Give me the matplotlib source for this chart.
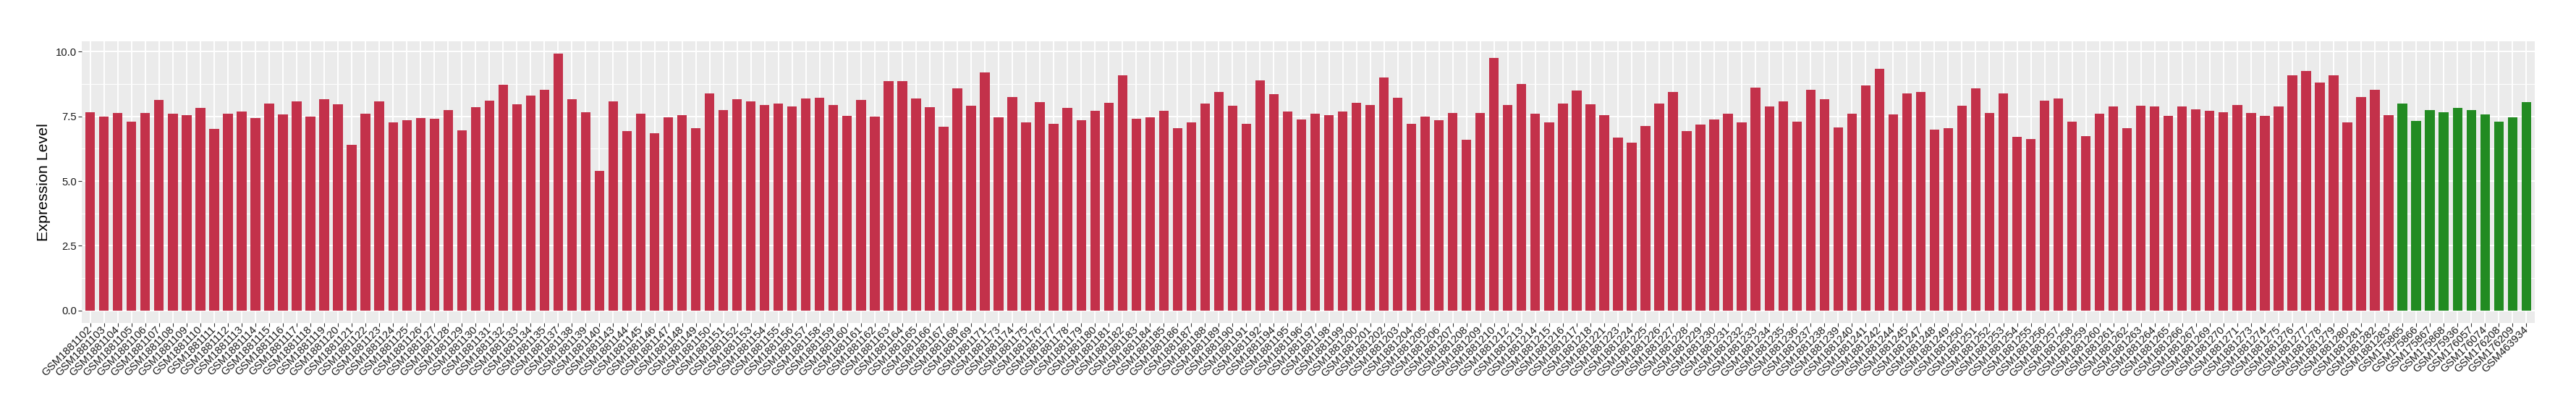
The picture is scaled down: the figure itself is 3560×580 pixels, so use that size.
import numpy as np
import matplotlib.pyplot as plt
from matplotlib.ticker import MultipleLocator, FormatStrFormatter

plt.rcParams['font.family'] = ['Liberation Sans', 'DejaVu Sans']

# sample ids (tumour group, prefix GSM1881)
tumour_ids = [102, 103, 104, 105, 106, 107, 108, 109, 110, 111, 112, 113, 114,
              115, 116, 117, 118, 119, 120, 121, 122, 123, 124, 125, 126, 127,
              128, 129, 130, 131, 132, 133, 134, 135, 137, 138, 139, 140,
              143, 144, 145, 146, 147, 148, 149, 150, 151, 152, 153, 154, 155,
              156, 157, 158, 159, 160, 161, 162, 163, 164, 165, 166, 167, 168,
              169, 171, 173, 174, 175, 176, 177, 178, 179, 180, 181, 182, 183,
              184, 185, 186, 187, 188, 189, 190, 191, 192, 194, 195, 196, 197,
              198, 199, 200, 201, 202, 203, 204, 205, 206, 207, 208, 209, 210,
              212, 213, 214, 215, 216, 217, 218, 221, 223, 224, 225, 226, 227,
              228, 229, 230, 231, 232, 233, 234, 235, 236, 237, 238, 239, 240,
              241, 242, 244, 245, 247, 248, 249, 250, 251, 252, 253, 254, 255,
              256, 257, 258, 259, 260, 261, 262, 263, 264, 265, 266, 267, 269,
              270, 271, 273, 274, 275, 276, 277, 278, 279, 280, 281, 282, 283]
tumour_labels = ['GSM1881%d' % i for i in tumour_ids]

tumour_values = [7.66, 7.50, 7.63, 7.30, 7.63, 8.14, 7.61, 7.55, 7.83, 7.02, 7.61, 7.69, 7.44,
                 7.99, 7.58, 8.09, 7.50, 8.17, 7.97, 6.40, 7.61, 8.09, 7.27, 7.35, 7.44, 7.41,
                 7.75, 6.96, 7.86, 8.11, 8.73, 7.97, 8.30, 8.53, 9.93, 8.17, 7.66, 5.40,
                 8.09, 6.94, 7.61, 6.86, 7.47, 7.55, 7.04, 8.39, 7.75, 8.17, 8.09, 7.94, 7.99,
                 7.89, 8.19, 8.22, 7.94, 7.52, 8.14, 7.50, 8.86, 8.86, 8.19, 7.86, 7.10, 8.58,
                 7.91, 9.20, 7.47, 8.25, 7.27, 8.06, 7.22, 7.83, 7.35, 7.71, 8.02, 9.09, 7.41,
                 7.47, 7.71, 7.04, 7.27, 7.99, 8.45, 7.91, 7.22, 8.89, 8.37, 7.69, 7.38, 7.61,
                 7.55, 7.69, 8.02, 7.94, 9.01, 8.22, 7.22, 7.50, 7.35, 7.63, 6.60, 7.63, 9.76,
                 7.94, 8.75, 7.61, 7.27, 7.99, 8.50, 7.97, 7.55, 6.68, 6.48, 7.14, 7.99, 8.45,
                 6.94, 7.19, 7.38, 7.61, 7.27, 8.61, 7.89, 8.09, 7.30, 8.53, 8.17, 7.07, 7.61,
                 8.70, 9.34, 7.58, 8.39, 8.45, 6.99, 7.04, 7.91, 8.58, 7.63, 8.39, 6.71, 6.63,
                 8.11, 8.19, 7.30, 6.74, 7.61, 7.89, 7.04, 7.91, 7.89, 7.52, 7.89, 7.78, 7.71,
                 7.66, 7.94, 7.63, 7.52, 7.89, 9.09, 9.26, 8.81, 9.09, 7.27, 8.25, 8.53, 7.55]

normal_labels = ['GSM175865', 'GSM175866', 'GSM175867', 'GSM175868', 'GSM175936',
                 'GSM176057', 'GSM176074', 'GSM176208', 'GSM176209', 'GSM463934']
normal_values = [7.99, 7.33, 7.75, 7.66, 7.83, 7.75, 7.58, 7.30, 7.47, 8.06]

labels = tumour_labels + normal_labels
values = tumour_values + normal_values
colors = ['#C3314A'] * len(tumour_values) + ['#228B22'] * len(normal_values)

fig, ax = plt.subplots(figsize=(35.6, 5.8), dpi=100)
fig.subplots_adjust(left=0.03183, right=0.98390, top=0.9022, bottom=0.2316)

x = np.arange(len(values))
ax.bar(x, values, width=0.7, color=colors, zorder=3)

ax.set_facecolor('#EBEBEB')
ax.set_xlim(-0.6, len(values) - 0.4)
ax.set_ylim(-0.476, 10.41)
ax.yaxis.set_major_locator(MultipleLocator(2.5))
ax.yaxis.set_minor_locator(MultipleLocator(1.25))
ax.yaxis.set_major_formatter(FormatStrFormatter('%.1f'))
ax.grid(which='major', color='white', linewidth=1.4, zorder=0)
ax.grid(which='minor', axis='y', color='white', linewidth=0.7, zorder=0)
ax.set_axisbelow(True)
for s in ax.spines.values():
    s.set_visible(False)

ax.set_xticks(x)
ax.set_xticklabels(labels, rotation=45, ha='right', va='center',
                   rotation_mode='anchor', fontsize=10.7, color='#1A1A1A')
ax.tick_params(axis='both', which='major', length=3.3, width=0.8, color='#333333', pad=2)
ax.tick_params(axis='y', which='minor', length=0)
ax.tick_params(axis='y', labelsize=10.7, labelcolor='#1A1A1A')

ax.set_ylabel('Expression Level', fontsize=15.4, labelpad=5)

fig.savefig('out.png', dpi=100)
